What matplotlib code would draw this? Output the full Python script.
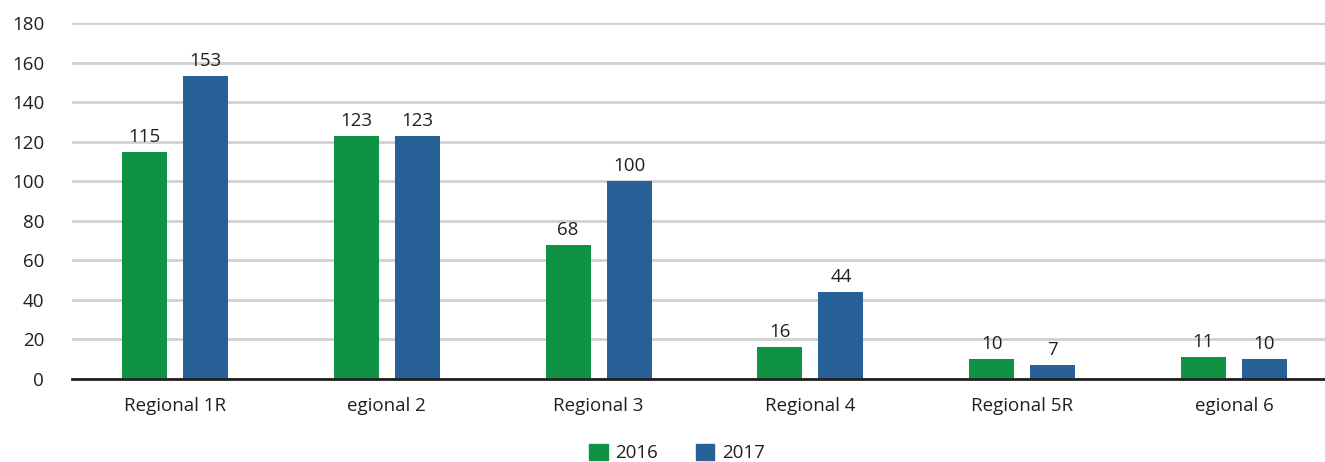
import matplotlib
matplotlib.use("Agg")
import matplotlib.pyplot as plt
import numpy as np
from matplotlib.patches import Patch

categories = ["Regional 1R", "egional 2", "Regional 3", "Regional 4", "Regional 5R", "egional 6"]
series_names = ["2016", "2017"]
values_2016 = [115, 123, 68, 16, 10, 11]
values_2017 = [153, 123, 100, 44, 7, 10]

green = "#0f9244"
blue = "#286198"

plt.rcParams['font.family'] = ['Open Sans', 'DejaVu Sans']

W, H = 1325, 462
fig = plt.figure(figsize=(W/100, H/100), dpi=100)
ax_left, ax_right = 72, 1325
ax_top, ax_bot = 23, 379
ax = fig.add_axes([ax_left/W, 1 - ax_bot/H, (ax_right-ax_left)/W, (ax_bot-ax_top)/H])

x = np.arange(len(categories))
bw = 0.212
off = 0.144
b1 = ax.bar(x - off, values_2016, bw, color=green, zorder=3)
b2 = ax.bar(x + off, values_2017, bw, color=blue, zorder=3)

for bars, vals in ((b1, values_2016), (b2, values_2017)):
    for r, v in zip(bars, vals):
        ax.text(r.get_x() + r.get_width()/2, v + 3, str(v), ha='center', va='bottom',
                fontsize=13.5, color='#231f20')

ax.set_xlim((ax_left - 175)/211.8, (ax_right - 175)/211.8)
ax.set_ylim(0, 180)
ax.set_yticks(np.arange(0, 181, 20))
ax.yaxis.grid(True, color='#d0d0d0', linewidth=2, zorder=0)
ax.set_axisbelow(True)
for s in ['top', 'right', 'left']:
    ax.spines[s].set_visible(False)
ax.spines['bottom'].set_color('#231f20')
ax.spines['bottom'].set_linewidth(2)
ax.spines['bottom'].set_zorder(4)
ax.set_xticks(x)
ax.set_xticklabels(categories)
ax.tick_params(axis='both', length=0, labelsize=13.5, colors='#231f20')
ax.tick_params(axis='x', pad=13)
ax.tick_params(axis='y', pad=20)

handles = [Patch(color=green), Patch(color=blue)]
fig.legend(handles, series_names, loc='center', bbox_to_anchor=(677/W, 1 - 453/H),
           ncol=2, frameon=False, fontsize=13.5, handlelength=1.0, handleheight=1.0,
           columnspacing=2.0, handletextpad=0.4, labelcolor='#231f20')

fig.savefig("out.png", dpi=100)
